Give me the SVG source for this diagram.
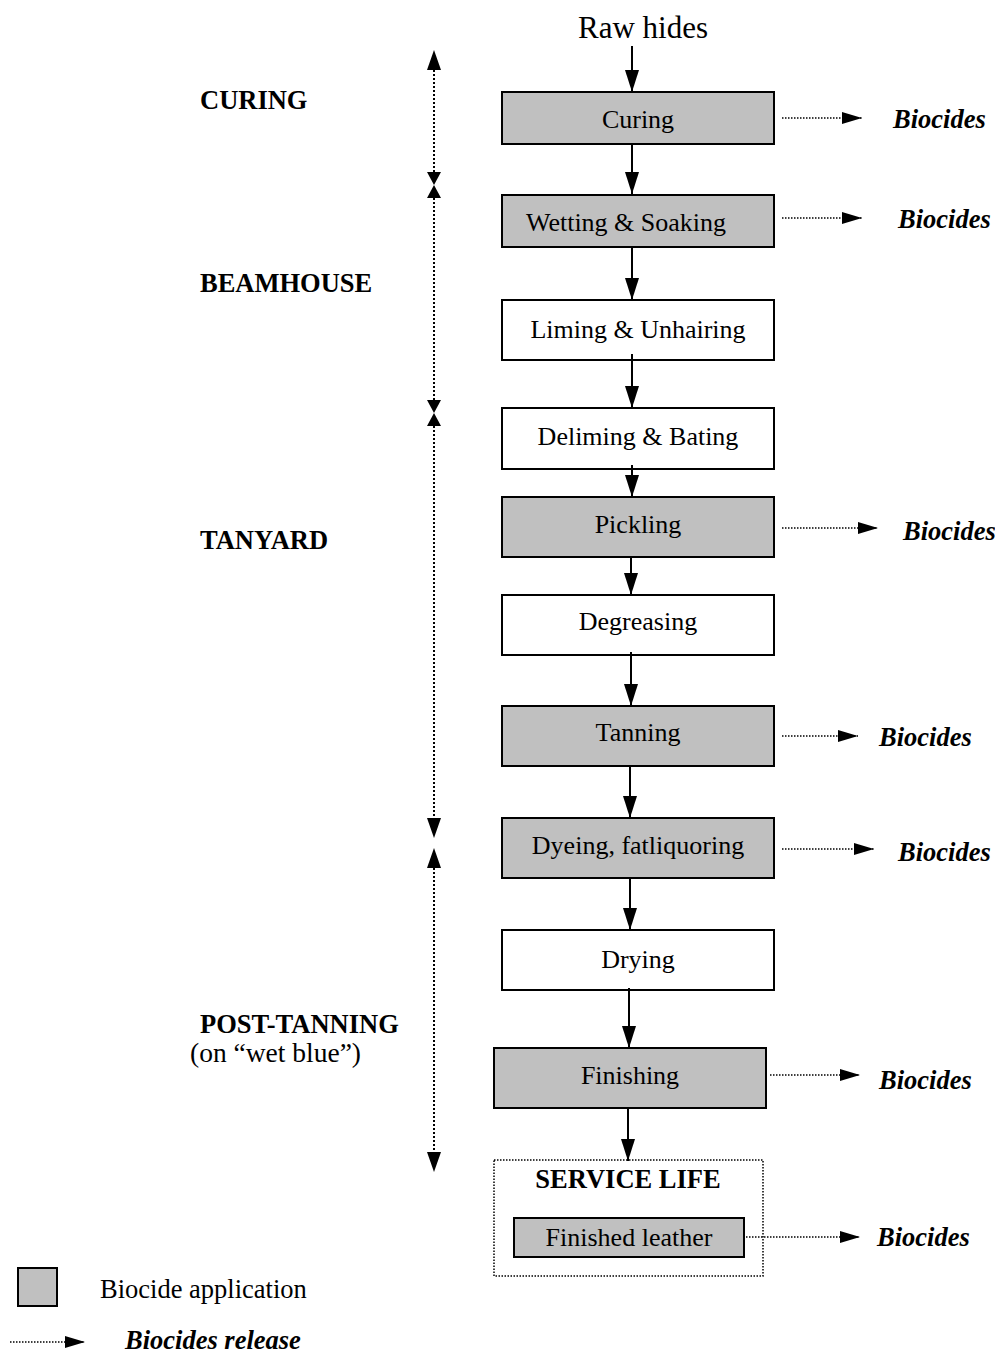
<svg xmlns="http://www.w3.org/2000/svg" width="995" height="1356" viewBox="0 0 995 1356">
<defs>
<marker id="ahs" viewBox="0 0 22 14" refX="22" refY="7" markerWidth="22" markerHeight="14" markerUnits="userSpaceOnUse" orient="auto">
<path d="M0,0 L22,7 L0,14 z" fill="#000"/>
</marker>
<marker id="ahd" viewBox="0 0 20 12" refX="20" refY="6" markerWidth="20" markerHeight="12" markerUnits="userSpaceOnUse" orient="auto">
<path d="M0,0 L20,6 L0,12 z" fill="#000"/>
</marker>
</defs>
<style>
.box{stroke:#000;stroke-width:2}
.g{fill:#c0c0c0}
.w{fill:#fff}
.t{font-family:"Liberation Serif","Times New Roman",serif;font-size:26px;fill:#000;text-anchor:middle}
.sec{font-family:"Liberation Serif","Times New Roman",serif;font-size:26.5px;font-weight:bold;fill:#000}
.bio{font-family:"Liberation Serif","Times New Roman",serif;font-size:26.5px;font-weight:bold;font-style:italic;fill:#000}
.flow{stroke:#000;stroke-width:2;fill:none;marker-end:url(#ahs)}
.rel{stroke:#000;stroke-width:1.5;stroke-dasharray:1.5 1.5;fill:none;marker-end:url(#ahd)}
.sect{stroke:#000;stroke-width:2;stroke-dasharray:2 2;fill:none}
</style>
<rect width="995" height="1356" fill="#fff"/>

<g id="sections">
<text class="sec" x="200" y="109">CURING</text>
<text class="sec" x="200" y="292">BEAMHOUSE</text>
<text class="sec" x="200" y="549">TANYARD</text>
<text class="sec" x="200" y="1033">POST-TANNING</text>
<text class="t" x="190" y="1062" style="text-anchor:start;font-size:27.5px">(on “wet blue”)</text>
</g>

<g id="section-scale">
<line class="sect" x1="434" y1="70" x2="434" y2="172"/>
<path d="M427,70 L441,70 L434,50 z"/>
<path d="M427,172 L441,172 L434,185 z"/>
<path d="M427,198 L441,198 L434,185 z"/>
<line class="sect" x1="434" y1="198" x2="434" y2="400"/>
<path d="M427,400 L441,400 L434,413 z"/>
<path d="M427,426 L441,426 L434,413 z"/>
<line class="sect" x1="434" y1="426" x2="434" y2="818"/>
<path d="M427,818 L441,818 L434,838 z"/>
<path d="M427,868 L441,868 L434,848 z"/>
<line class="sect" x1="434" y1="868" x2="434" y2="1152"/>
<path d="M427,1152 L441,1152 L434,1172 z"/>
</g>

<g id="raw-hides"><text class="t" x="643" y="38" style="font-size:31px">Raw hides</text></g>

<g id="curing"><rect class="box g" x="502" y="92" width="272" height="52"/><text class="t" x="638" y="128">Curing</text></g>
<g id="wetting"><rect class="box g" x="502" y="195" width="272" height="52"/><text class="t" x="626" y="231">Wetting &amp; Soaking</text></g>
<g id="liming"><rect class="box w" x="502" y="300" width="272" height="60"/><text class="t" x="638" y="338">Liming &amp; Unhairing</text></g>
<g id="deliming"><rect class="box w" x="502" y="408" width="272" height="61"/><text class="t" x="638" y="445">Deliming &amp; Bating</text></g>
<g id="pickling"><rect class="box g" x="502" y="497" width="272" height="60"/><text class="t" x="638" y="533">Pickling</text></g>
<g id="degreasing"><rect class="box w" x="502" y="595" width="272" height="60"/><text class="t" x="638" y="630">Degreasing</text></g>
<g id="tanning"><rect class="box g" x="502" y="706" width="272" height="60"/><text class="t" x="638" y="741">Tanning</text></g>
<g id="dyeing"><rect class="box g" x="502" y="818" width="272" height="60"/><text class="t" x="638" y="854">Dyeing, fatliquoring</text></g>
<g id="drying"><rect class="box w" x="502" y="930" width="272" height="60"/><text class="t" x="638" y="968">Drying</text></g>
<g id="finishing"><rect class="box g" x="494" y="1048" width="272" height="60"/><text class="t" x="630" y="1084">Finishing</text></g>
<g id="service-life">
<rect x="494" y="1160" width="269" height="116" fill="none" stroke="#000" stroke-width="1.5" stroke-dasharray="1.5 1.5"/>
<text class="sec" x="628" y="1188" style="text-anchor:middle">SERVICE LIFE</text>
</g>
<g id="finished-leather"><rect class="box g" x="514" y="1218" width="230" height="39"/><text class="t" x="629" y="1246">Finished leather</text></g>

<g id="biocides-labels">
<text class="bio" x="893" y="128">Biocides</text>
<text class="bio" x="898" y="228">Biocides</text>
<text class="bio" x="903" y="540">Biocides</text>
<text class="bio" x="879" y="746">Biocides</text>
<text class="bio" x="898" y="861">Biocides</text>
<text class="bio" x="879" y="1089">Biocides</text>
<text class="bio" x="877" y="1246">Biocides</text>
</g>

<g id="connectors">
<line class="flow" x1="632" y1="46" x2="632" y2="92"/>
<line class="flow" x1="632" y1="144" x2="632" y2="194"/>
<line class="flow" x1="632" y1="247" x2="632" y2="300"/>
<line class="flow" x1="632" y1="354" x2="632" y2="408"/>
<line class="flow" x1="632" y1="465" x2="632" y2="497"/>
<line class="flow" x1="631" y1="557" x2="631" y2="595"/>
<line class="flow" x1="631" y1="652" x2="631" y2="706"/>
<line class="flow" x1="630" y1="766" x2="630" y2="818"/>
<line class="flow" x1="630" y1="878" x2="630" y2="930"/>
<line class="flow" x1="629" y1="988" x2="629" y2="1048"/>
<line class="flow" x1="628" y1="1108" x2="628" y2="1161"/>
<line class="rel" x1="782" y1="118" x2="862" y2="118"/>
<line class="rel" x1="782" y1="218" x2="862" y2="218"/>
<line class="rel" x1="782" y1="528" x2="878" y2="528"/>
<line class="rel" x1="782" y1="736" x2="858" y2="736"/>
<line class="rel" x1="782" y1="849" x2="874" y2="849"/>
<line class="rel" x1="770" y1="1075" x2="860" y2="1075"/>
<line class="rel" x1="746" y1="1237" x2="860" y2="1237"/>
</g>

<g id="legend">
<rect class="box g" x="18" y="1268" width="39" height="38"/>
<text class="t" x="100" y="1298" style="text-anchor:start;font-size:26.5px">Biocide application</text>
<line class="rel" x1="10" y1="1342" x2="85" y2="1342"/>
<text class="bio" x="125" y="1349">Biocides release</text>
</g>
</svg>
